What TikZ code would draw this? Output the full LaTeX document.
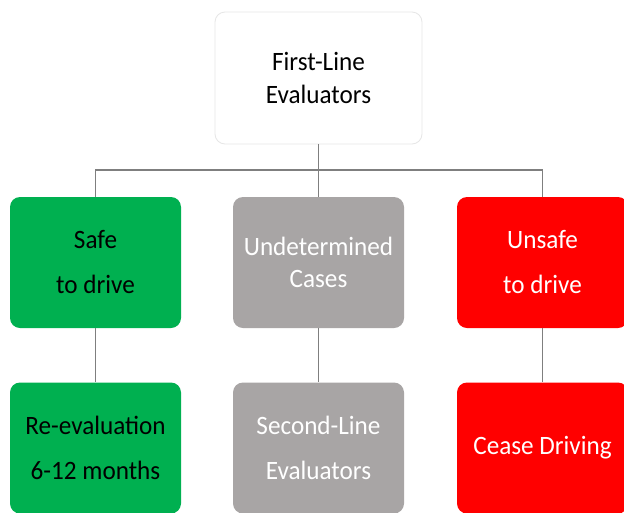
\documentclass[tikz,border=0pt]{standalone}
\usepackage{fontspec}
\setmainfont{Carlito}[FakeStretch=0.95]
\definecolor{boxgreen}{HTML}{00B050}
\definecolor{boxgray}{HTML}{A8A5A5}
\definecolor{boxred}{HTML}{FF0000}
\definecolor{linegray}{HTML}{7F7F7F}
\definecolor{topedge}{HTML}{E6E6E6}
\begin{document}
\begin{tikzpicture}[x=1pt,y=-1pt,
  box/.style={rectangle,rounded corners=10pt,minimum width=171pt,minimum height=131pt,
    inner sep=0pt,align=center,draw=none},
  wide/.style={font=\fontsize{26.5}{45}\selectfont},
  tight/.style={font=\fontsize{26.5}{32.5}\selectfont},
  conn/.style={draw=linegray,line width=1.4pt}]
\useasboundingbox (0,0) rectangle (624,512);
\clip (0,0) rectangle (624,512);
\fill[white] (0,0) rectangle (624,512);
\node[box,fill=white,draw=topedge,line width=0.8pt,minimum width=207pt,minimum height=132pt,
  tight,text=black] (top) at (318.5,78) {First-Line\\Evaluators};
\node[box,fill=boxgreen,wide,text=black] (safe) at (95.5,262.5) {Safe\\to drive};
\node[box,fill=boxgray,tight,text=white] (undet) at (318.5,262.5) {Undetermined\\Cases};
\node[box,fill=boxred,wide,text=white] (unsafe) at (542.5,262.5) {Unsafe\\to drive};
\node[box,fill=boxgreen,wide,text=black] (reeval) at (95.5,448) {Re-evaluation\\6-12 months};
\node[box,fill=boxgray,wide,text=white] (second) at (318.5,448) {Second-Line\\Evaluators};
\node[box,fill=boxred,wide,text=white] (cease) at (542.5,448) {Cease Driving};
\coordinate (bus) at (318.5,170);
\path[conn] (top.south) -- (bus);
\path[conn] (safe.north) |- (bus) -| (unsafe.north);
\path[conn] (bus) -- (undet.north);
\path[conn] (safe.south) -- (reeval.north);
\path[conn] (undet.south) -- (second.north);
\path[conn] (unsafe.south) -- (cease.north);
\end{tikzpicture}
\end{document}
